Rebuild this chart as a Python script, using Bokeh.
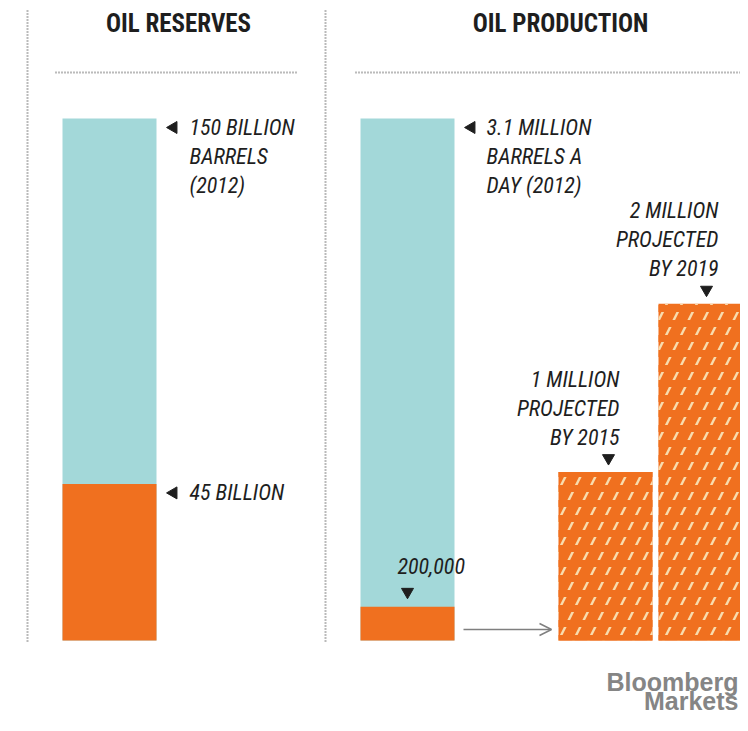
from bokeh.plotting import figure
from bokeh.models import Range1d, ColumnDataSource, Arrow, OpenHead
from bokeh.core.properties import value
from bokeh.embed import file_html
from bokeh.resources import INLINE

# ---------------- data ----------------
panel_titles = ["OIL RESERVES", "OIL PRODUCTION"]
reserves_total = 150.0        # billion barrels (2012)
reserves_part = 45.0          # billion barrels
reserves_total_label = ["150 BILLION", "BARRELS", "(2012)"]
reserves_part_label = ["45 BILLION"]

production_2012 = 3.1         # million barrels a day (2012)
production_now = 0.2          # million barrels a day
production_2012_label = ["3.1 MILLION", "BARRELS A", "DAY (2012)"]
production_now_label = ["200,000"]
projected_years = ["2015", "2019"]
projected_values = [1.0, 2.0]  # million barrels a day
projected_labels = [["1 MILLION", "PROJECTED", "BY 2015"],
                    ["2 MILLION", "PROJECTED", "BY 2019"]]

# ---------------- layout ----------------
W, H = 740, 715
BASE = 640.0                      # pixel row of zero
TOP = 118.0                       # pixel row of tallest bar
K1 = (BASE - TOP) / reserves_total     # px per billion barrels
K2 = (BASE - TOP) / production_2012    # px per million b/d

TEAL = "#a3d8d9"
ORANGE = "#f0701f"
INK = "#1e1e1e"
DOT = "#767676"
FONT = value("Roboto Condensed, DejaVu Sans Condensed")

def y1(px):
    return (BASE - px) / K1

def y2(px):
    return (BASE - px) / K2

p = figure(width=W, height=H, output_backend="svg", toolbar_location=None,
           x_range=Range1d(0, W),
           y_range=Range1d(y1(H), y1(0)),
           x_axis_location=None, y_axis_location=None,
           min_border=0, outline_line_color=None, background_fill_color="white")
p.extra_y_ranges = {"prod": Range1d(y2(H), y2(0))}
p.xgrid.visible = False
p.ygrid.visible = False

BW = 94
XL = 109          # reserves bar centre
XR = 407          # production bar centre
XP = [605, 705]   # projected bars centres

# dotted frame lines
p.segment(x0=[27, 325], y0=[y1(10), y1(10)], x1=[27, 325], y1=[y1(641), y1(641)],
          line_color=DOT, line_width=2, line_dash="1 2")
p.segment(x0=[55, 355], y0=[y1(72), y1(72)], x1=[298, 748], y1=[y1(72), y1(72)],
          line_color=DOT, line_width=2, line_dash="1 2")

# titles
p.text(x=[178, 560], y=[y1(23), y1(23)], text=panel_titles, text_font=FONT,
       text_font_style="bold", text_font_size="25px", text_color=INK,
       text_align="center", text_baseline="middle")

# reserves bar
p.vbar(x=[XL], bottom=[0], top=[reserves_total], width=BW, fill_color=TEAL, line_color=None)
p.vbar(x=[XL], bottom=[0], top=[reserves_part], width=BW, fill_color=ORANGE, line_color=None)

# production bars
p.vbar(x=[XR], bottom=[0], top=[production_2012], width=BW, fill_color=TEAL,
       line_color=None, y_range_name="prod")
p.vbar(x=[XR], bottom=[0], top=[production_now], width=BW, fill_color=ORANGE,
       line_color=None, y_range_name="prod")
p.vbar(x=XP, bottom=[0, 0], top=projected_values, width=BW, fill_color=ORANGE,
       line_color=None, hatch_pattern="/", hatch_scale=30, hatch_weight=2.4,
       hatch_color="#f8dcae", y_range_name="prod")
p.vbar(x=XP, bottom=[0, 0], top=projected_values, width=BW, fill_alpha=0,
       line_color=None, hatch_pattern="-", hatch_scale=15, hatch_weight=7,
       hatch_color=ORANGE, y_range_name="prod")

LH = 29

def label_lines(xs, ys, lines_list, offs, align, rng=None):
    X, Y, T, O = [], [], [], []
    for x, yv, lines, o in zip(xs, ys, lines_list, offs):
        for i, t in enumerate(lines):
            X.append(x); Y.append(yv); T.append(t); O.append(o + i * LH)
    src = ColumnDataSource(dict(x=X, y=Y, text=T, off=O))
    kw = dict(y_range_name=rng) if rng else {}
    p.text(x="x", y="y", text="text", y_offset="off", source=src, text_font=FONT,
           text_font_style="italic", text_font_size="22px", text_color=INK,
           text_align=align, text_baseline="middle", **kw)

# left-pointing markers and labels
p.scatter(x=[173, 173], y=[reserves_total - 9 / K1, reserves_part - 9 / K1],
          marker="triangle", angle=1.5708, size=12, fill_color=INK, line_color=INK)
label_lines([189, 189], [reserves_total, reserves_part],
            [reserves_total_label, reserves_part_label], [9, 9], "left")

p.scatter(x=[471], y=[production_2012 - 9 / K2], marker="triangle", angle=1.5708, size=12,
          fill_color=INK, line_color=INK, y_range_name="prod")
label_lines([486], [production_2012], [production_2012_label], [9], "left", "prod")

# downward markers for projections and 200,000
p.scatter(x=[608, 706], y=[v + 14 / K2 for v in projected_values], marker="inverted_triangle",
          size=12, fill_color=INK, line_color=INK, y_range_name="prod")
label_lines([619, 718], projected_values, projected_labels, [-93, -93], "right", "prod")

p.scatter(x=[407], y=[production_now + 15 / K2], marker="inverted_triangle", size=12,
          fill_color=INK, line_color=INK, y_range_name="prod")
label_lines([397], [production_now], [production_now_label], [-41], "left", "prod")

# arrow from current production to projections
p.add_layout(Arrow(end=OpenHead(size=12, line_color="#7f7f7f", line_width=1.5),
                   x_start=463, y_start=y2(629), x_end=551, y_end=y2(629),
                   line_color="#7f7f7f", line_width=1.5, y_range_name="prod"))

# logo
p.text(x=[738, 738], y=[y1(681), y1(700)], text=["Bloomberg", "Markets"],
       text_font=value("Liberation Sans"), text_font_style="bold", text_font_size="25px",
       text_color="#858585", text_align="right", text_baseline="middle")

open("out.html", "w").write(file_html(p, INLINE))
